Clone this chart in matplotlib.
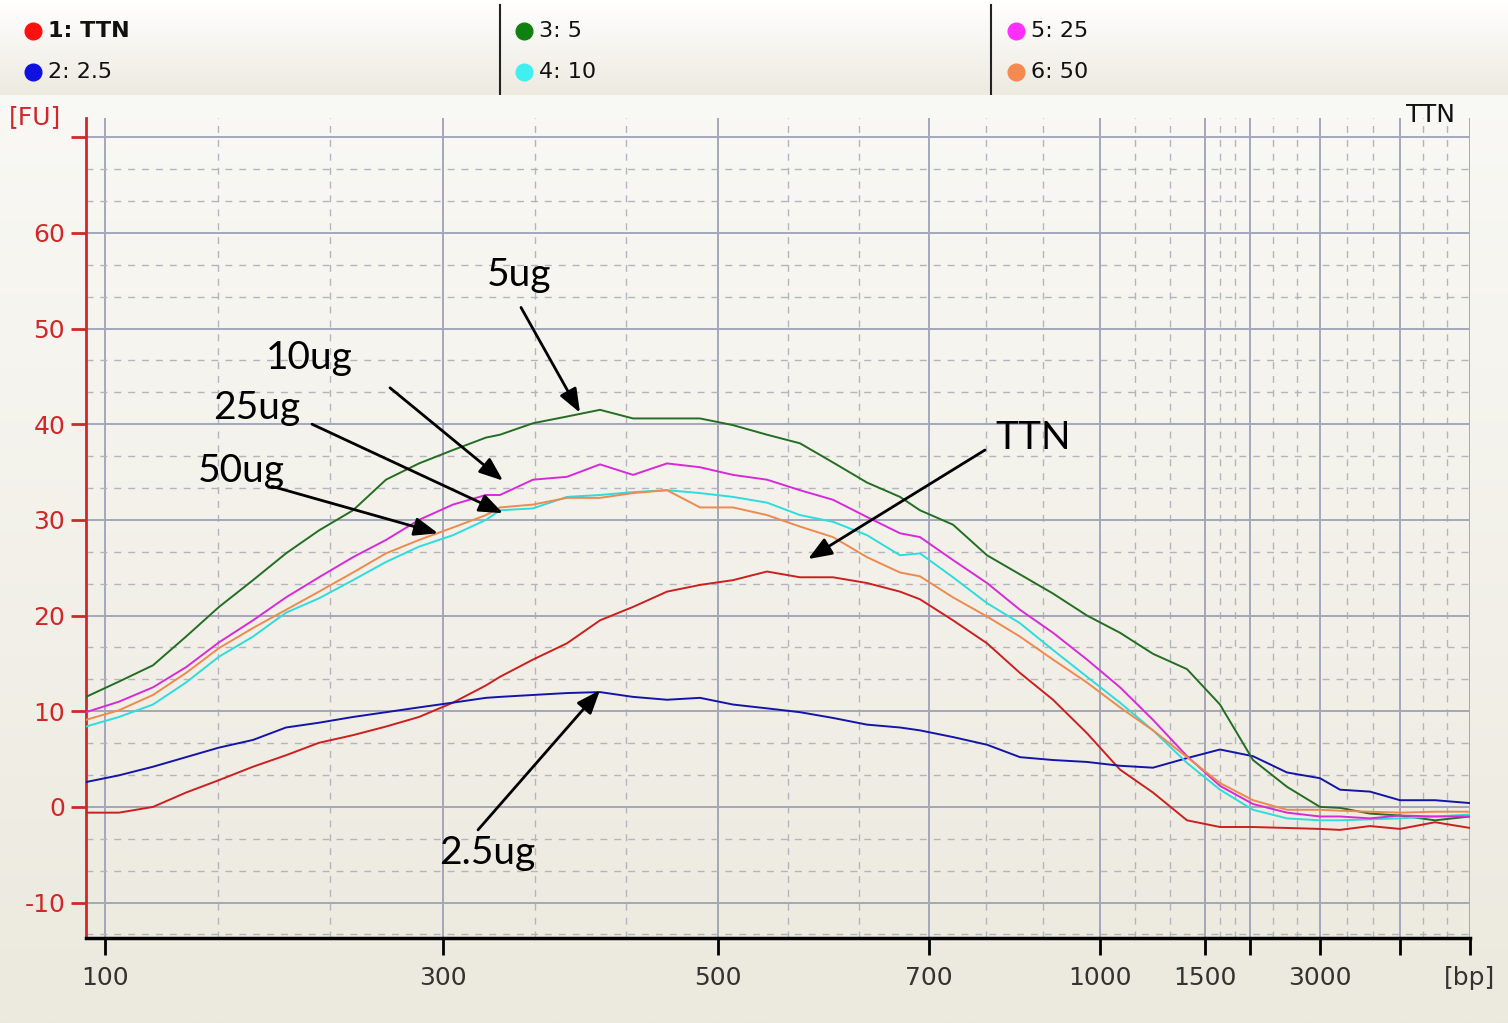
import matplotlib.pyplot as plt
import numpy as np
from matplotlib.colors import to_rgb

plt.rcParams.update({
    "font.family": ["DejaVu Sans"],
    "font.size": 16,
})

# migration position (scan units, 0 = 100 bp marker)
pos = [-19, 14, 48, 81, 114, 148, 181, 214, 248, 281, 314, 348, 381, 395, 428, 462, 495,
       528, 562, 595, 628, 662, 695, 728, 762, 795, 815, 848, 882, 915, 948, 982, 1015,
       1048, 1082, 1115, 1148, 1182, 1215, 1235, 1265, 1295, 1330, 1365]

ttn = [-0.6, -0.6, 0.0, 1.5, 2.8, 4.2, 5.4, 6.7, 7.5, 8.4, 9.4, 10.9, 12.7, 13.6, 15.4, 17.1, 19.5,
       20.9, 22.5, 23.2, 23.7, 24.6, 24.0, 24.0, 23.4, 22.5, 21.7, 19.5, 17.1, 14.0, 11.2, 7.7, 3.9,
       1.5, -1.4, -2.1, -2.1, -2.2, -2.3, -2.4, -2.0, -2.3, -1.6, -2.2]
ug2_5 = [2.6, 3.3, 4.2, 5.2, 6.2, 7.0, 8.3, 8.8, 9.4, 9.9, 10.4, 10.9, 11.4, 11.5, 11.7, 11.9, 12.0,
         11.5, 11.2, 11.4, 10.7, 10.3, 9.9, 9.3, 8.6, 8.3, 8.0, 7.3, 6.5, 5.2, 4.9, 4.7, 4.3,
         4.1, 5.1, 6.0, 5.3, 3.6, 3.0, 1.8, 1.6, 0.7, 0.7, 0.4]
ug5 = [11.5, 13.1, 14.8, 17.8, 20.9, 23.7, 26.5, 28.9, 31.0, 34.2, 35.9, 37.3, 38.6, 38.9, 40.1, 40.8, 41.5,
       40.6, 40.6, 40.6, 39.9, 38.9, 38.0, 36.0, 33.9, 32.4, 31.0, 29.5, 26.3, 24.3, 22.3, 20.0, 18.2,
       16.0, 14.4, 10.7, 4.9, 2.1, 0.0, -0.1, -0.7, -0.9, -1.4, -1.0]
ug10 = [8.4, 9.4, 10.7, 13.0, 15.7, 17.8, 20.3, 21.8, 23.7, 25.6, 27.2, 28.4, 30.0, 31.0, 31.2, 32.4, 32.6,
        32.9, 33.1, 32.8, 32.4, 31.8, 30.5, 29.8, 28.4, 26.3, 26.5, 24.0, 21.3, 19.2, 16.4, 13.6, 10.9,
        8.0, 4.6, 1.8, -0.3, -1.2, -1.4, -1.4, -1.3, -1.2, -1.0, -0.8]
ug25 = [9.9, 11.0, 12.5, 14.6, 17.2, 19.5, 21.9, 24.0, 26.1, 27.9, 30.0, 31.6, 32.6, 32.6, 34.2, 34.5, 35.8,
        34.7, 35.9, 35.5, 34.7, 34.2, 33.1, 32.1, 30.3, 28.6, 28.2, 25.8, 23.4, 20.6, 18.2, 15.4, 12.5,
        9.1, 5.3, 2.2, 0.3, -0.6, -1.0, -1.0, -1.2, -0.9, -1.0, -1.0]
ug50 = [9.1, 10.1, 11.7, 14.0, 16.6, 18.7, 20.6, 22.5, 24.5, 26.5, 27.9, 29.2, 30.5, 31.3, 31.6, 32.3, 32.3,
        32.8, 33.1, 31.3, 31.3, 30.5, 29.3, 28.2, 26.1, 24.5, 24.1, 21.9, 19.9, 17.8, 15.4, 13.0, 10.4,
        8.0, 5.2, 2.5, 0.7, -0.3, -0.3, -0.4, -0.5, -0.6, -0.5, -0.5]

series = [ttn, ug2_5, ug5, ug10, ug25, ug50]
line_colors = ["#CC1F1F", "#1414A8", "#236E23", "#2EDCDC", "#D82AD8", "#EE8A4E"]
dot_colors = ["#FF1010", "#1010E0", "#108010", "#40F0F0", "#FF30FF", "#F58A50"]
legend_labels = ["1: TTN", "2: 2.5", "3: 5", "4: 10", "5: 25", "6: 50"]

# x axis ladder ticks
bp_pos = [0, 338, 613, 824, 995, 1100, 1145, 1215, 1295, 1365]
bp_labels = ["100", "300", "500", "700", "1000", "1500", "", "3000", "", "[bp]"]

# annotations: label, text position, arrow tail, arrow head
ann_labels = ["5ug", "10ug", "25ug", "50ug", "TTN", "2.5ug"]
ann_text = [(414, 55.6), (204, 46.9), (152, 41.7), (136, 35.1), (928, 38.6), (382, -4.8)]
ann_tail = [(416, 52.2), (285, 43.8), (207, 40.0), (167, 33.5), (880, 37.3), (373, -2.4)]
ann_head = [(475, 41.2), (398, 34.1), (398, 30.7), (333, 28.6), (703, 25.9), (495, 12.2)]

W, H = 1508, 1023
fig = plt.figure(figsize=(W / 100, H / 100), dpi=100)

# background gradients
bg = fig.add_axes([0, 0, 1, 1], zorder=-5)
rows = np.linspace(0, 1, 400)[:, None]
top_c = np.array(to_rgb("#FAFAF7"))
bot_c = np.array(to_rgb("#ECE9DE"))
grad = top_c + (bot_c - top_c) * rows
bg.imshow(grad[:, None, :].repeat(2, axis=1), extent=[0, 1, 0, 1], aspect="auto")
bg.axis("off")

band = fig.add_axes([0, 1 - 95 / H, 1, 95 / H], zorder=-4)
btop = np.array(to_rgb("#FFFFFF"))
bbot = np.array(to_rgb("#EDEAE0"))
bgrad = btop + (bbot - btop) * rows
band.imshow(bgrad[:, None, :].repeat(2, axis=1), extent=[0, 1, 0, 1], aspect="auto")
band.set_xlim(0, 1)
band.set_ylim(0, 1)
band.axis("off")
for sx in [500 / W, 991 / W]:
    band.plot([sx, sx], [0.0, 0.95], color="#222222", lw=1.5)
col_x = [33 / W, 524 / W, 1016 / W]
row_y = [1 - 31 / 95, 1 - 72 / 95]
for i, (lab, c) in enumerate(zip(legend_labels, dot_colors)):
    cx = col_x[i // 2]
    cy = row_y[i % 2]
    band.plot(cx, cy, marker="o", ms=12, color=c, mec=c)
    band.text(cx + 15 / W, cy, lab, va="center", ha="left", fontsize=16, color="#111111",
              fontweight="bold" if i == 0 else "normal")

# main plot
ax = fig.add_axes([86 / W, 1 - 938 / H, (1470 - 86) / W, (938 - 118) / H])
ax.patch.set_alpha(0)
ax.set_xlim(-19, 1365)
ax.set_ylim(-13.7, 72.0)

ax.set_xticks(bp_pos)
ax.set_xticklabels(bp_labels)
minor_x = []
for a, b in zip(bp_pos[:-1], bp_pos[1:]):
    minor_x += [a + (b - a) / 3, a + 2 * (b - a) / 3]
ax.set_xticks(minor_x, minor=True)

yt = np.arange(-10, 71, 10)
ax.set_yticks(yt)
ax.set_yticklabels([str(v) if v < 70 else "" for v in yt])
minor_y = [v + d for v in np.arange(-20, 70, 10) for d in (10 / 3, 20 / 3) if -13.7 < v + d < 72]
ax.set_yticks(minor_y, minor=True)

ax.grid(True, which="major", color="#A4A6BA", lw=1.4)
ax.grid(True, which="minor", color="#B4B4BE", lw=1.0, linestyle=(0, (5, 5)))
ax.set_axisbelow(True)

ax.tick_params(axis="y", which="major", colors="#D02828", length=11, width=2, labelsize=18, pad=4)
ax.tick_params(axis="x", which="major", colors="black", length=12, width=2, labelsize=18,
               labelcolor="#333333", pad=8)
ax.tick_params(which="minor", length=0)

for s in ["top", "right"]:
    ax.spines[s].set_visible(False)
ax.spines["left"].set_color("#D02828")
ax.spines["left"].set_linewidth(2)
ax.spines["bottom"].set_color("black")
ax.spines["bottom"].set_linewidth(2.5)

for ys, c in zip(series, line_colors):
    ax.plot(pos, ys, color=c, lw=1.4, zorder=3)

for lab, tp, tl, hd in zip(ann_labels, ann_text, ann_tail, ann_head):
    ax.text(tp[0], tp[1], lab, ha="center", va="center", fontsize=28, family="Lato",
            color="black", zorder=5)
    ax.annotate("", xy=hd, xytext=tl,
                arrowprops=dict(arrowstyle="-|>,head_length=0.9,head_width=0.35",
                                color="black", lw=2, shrinkA=0, shrinkB=0,
                                mutation_scale=16), zorder=5)

fig.text(35 / W, 1 - 117 / H, "[FU]", color="#D02828", fontsize=18, ha="center", va="center")
fig.text(1430 / W, 1 - 115 / H, "TTN", color="#111111", fontsize=18, ha="center", va="center")

fig.savefig("out.png", dpi=100)
